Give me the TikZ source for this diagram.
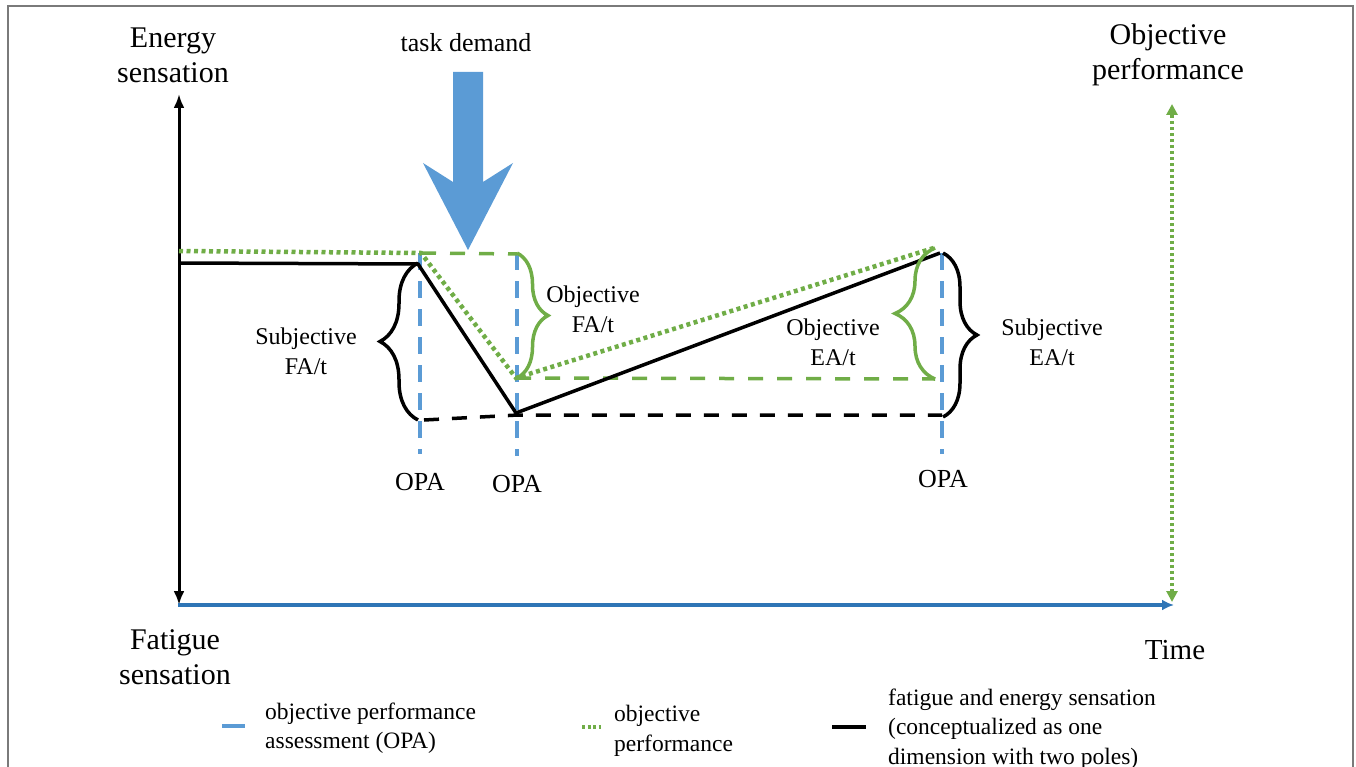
\documentclass[tikz,border=0pt]{standalone}
\usepackage{fontspec}
\setmainfont{Liberation Serif}
\usetikzlibrary{arrows.meta,decorations.pathreplacing}
\definecolor{opablue}{HTML}{5B9BD5}
\definecolor{axisblue}{HTML}{2E75B6}
\definecolor{perfgreen}{HTML}{70AD47}
\definecolor{framegray}{HTML}{7A7A7A}
\begin{document}
\begin{tikzpicture}[x=1pt,y=-1pt,
  biglbl/.style={font=\fontsize{30}{35}\selectfont, align=center, inner sep=0pt},
  midlbl/.style={font=\fontsize{24}{30}\selectfont, align=center, inner sep=0pt},
  opalbl/.style={font=\fontsize{26}{30}\selectfont, inner sep=0pt},
  leglbl/.style={font=\fontsize{23.5}{29.5}\selectfont, align=left, inner sep=0pt, anchor=west},
  sens/.style={black, line width=3.5pt},
  sensdash/.style={black, line width=3.5pt, dash pattern=on 15pt off 13pt},
  opaline/.style={opablue, line width=3.5pt, dash pattern=on 17pt off 11pt},
  perf/.style={perfgreen, line width=4.5pt, dash pattern=on 4pt off 3.5pt},
  perfdash/.style={perfgreen, line width=3.5pt, dash pattern=on 15pt off 14pt},
  bracebk/.style={decorate, decoration={brace, amplitude=#1}, black, line width=3.5pt},
  bracegn/.style={decorate, decoration={brace, amplitude=#1}, perfgreen, line width=3.5pt}
]
\useasboundingbox (0,0) rectangle (1356,767);
% frame
\draw[framegray, line width=1.5pt] (8,767) -- (8,6) -- (1353,6) -- (1353,767);

% coordinates
\coordinate (ya) at (179,94);
\coordinate (yb) at (179,605);
\coordinate (t0) at (178,605);
\coordinate (t1) at (1174,605);
\coordinate (ga) at (1172,104);
\coordinate (gb) at (1172,602);

\coordinate (s0) at (179,263);
\coordinate (s1) at (418,264);
\coordinate (s2) at (516,413);
\coordinate (s3) at (940,253);

\coordinate (p0) at (179,251);
\coordinate (p1) at (421,253);
\coordinate (p2) at (516,378);
\coordinate (p3) at (937,247);
\coordinate (q1) at (517,254);
\coordinate (q3) at (935,379);

\coordinate (b0) at (424,420);
\coordinate (b1) at (518,415);
\coordinate (b2) at (942,415);

\coordinate (o1t) at (420,253);
\coordinate (o1b) at (420,454);
\coordinate (o2t) at (517,253);
\coordinate (o2b) at (517,456);
\coordinate (o3t) at (942,253);
\coordinate (o3b) at (942,454);

% task demand arrow
\fill[opablue] (453,72) -- (483,72) -- (483,182) -- (513,163) -- (468,250) -- (423,163) -- (453,182) -- cycle;

% axes
\draw[black, line width=3pt, {Latex[length=14pt,width=11pt]}-{Latex[length=14pt,width=11pt]}] (yb) -- (ya);
\draw[axisblue, line width=3.5pt, -{Latex[length=12pt,width=11pt]}] (t0) -- (t1);
\draw[perfgreen, line width=3.5pt, dash pattern=on 3pt off 3pt, {Triangle[length=11pt,width=11pt]}-{Triangle[length=11pt,width=11pt]}] (gb) -- (ga);

% OPA verticals
\draw[opaline] (o1t) -- (o1b);
\draw[opaline] (o2t) -- (o2b);
\draw[opaline] (o3t) -- (o3b);

% green dashed
\draw[perfdash] (p1) -- (q1);
\draw[perfdash] (p2) -- (q3);
% black dashed
\draw[sensdash] (b0) -- (b1) -- (b2);

% green dotted performance
\draw[perf] (p0) -- (p1) -- (p2) -- (p3);
% black sensation
\draw[sens, line join=miter] (s0) -- (s1) -- (s2) -- (s3);

% braces
\draw[bracebk=38pt] (418,420) -- (418,263);
\draw[bracegn=31pt] (517,253) -- (517,378);
\draw[bracegn=40pt] (935,379) -- (935,248);
\draw[bracebk=34pt] (943,253) -- (943,417);

% labels
\node[biglbl] (energy) at (173,55) {Energy\\sensation};
\node[biglbl] (fatigue) at (175,657) {Fatigue\\sensation};
\node[biglbl] (objperf) at (1168,55) {Objective\\performance};
\node[font=\fontsize{29}{35}\selectfont, inner sep=0pt] (time) at (1175,650) {Time};
\node[font=\fontsize{26}{30}\selectfont, inner sep=0pt] (task) at (466,43) {task demand};

\node[midlbl] (subfa) at (306,351) {Subjective\\FA/t};
\node[midlbl] (objfa) at (593,309) {Objective\\FA/t};
\node[midlbl] (objea) at (833,342) {Objective\\EA/t};
\node[midlbl] (subea) at (1052,342) {Subjective\\EA/t};

\node[opalbl] (opa1) at (420,482) {OPA};
\node[opalbl] (opa2) at (517,484) {OPA};
\node[opalbl] (opa3) at (943,479) {OPA};

% legend
\coordinate (l1a) at (222,726);
\coordinate (l1b) at (245,726);
\draw[opablue, line width=4pt] (l1a) -- (l1b);
\node[leglbl] (leg1) at (265,728) {objective performance\\assessment (OPA)};
\coordinate (l2a) at (582,727);
\coordinate (l2b) at (601,727);
\draw[perfgreen, line width=4pt, dash pattern=on 3pt off 2.5pt] (l2a) -- (l2b);
\node[leglbl] (leg2) at (614,731) {objective\\performance};
\coordinate (l3a) at (832,727);
\coordinate (l3b) at (866,727);
\draw[black, line width=4pt] (l3a) -- (l3b);
\node[leglbl] (leg3) at (888,729) {fatigue and energy sensation\\(conceptualized as one\\dimension with two poles)};
\end{tikzpicture}
\end{document}
